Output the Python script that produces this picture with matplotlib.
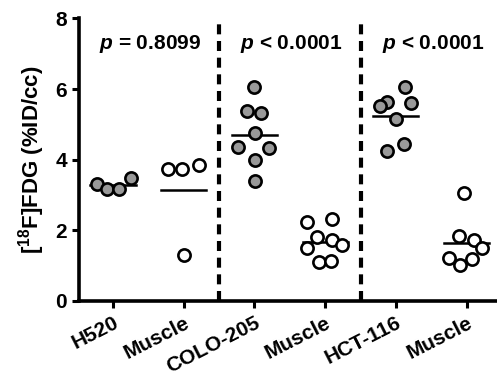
import numpy as np
import matplotlib
matplotlib.use('Agg')
import matplotlib.pyplot as plt

plt.rcParams['font.family'] = ['Liberation Sans', 'DejaVu Sans']
plt.rcParams['font.weight'] = 'bold'
plt.rcParams['mathtext.fontset'] = 'custom'
plt.rcParams['mathtext.rm'] = 'Liberation Sans:bold'
plt.rcParams['mathtext.it'] = 'Liberation Sans:italic:bold'
plt.rcParams['mathtext.bf'] = 'Liberation Sans:bold'

# groups on the x axis
labels = ['H520', 'Muscle', 'COLO-205', 'Muscle', 'HCT-116', 'Muscle']
filled = [True, False, True, False, True, False]

# [18F]FDG uptake (%ID/cc) per animal
h520 = [3.31, 3.16, 3.16, 3.49]
h520_muscle = [3.73, 3.73, 3.85, 1.30]
colo = [6.07, 5.39, 5.33, 4.76, 4.37, 4.34, 3.99, 3.40]
colo_muscle = [2.24, 2.32, 1.82, 1.73, 1.51, 1.59, 1.11, 1.14]
hct = [6.05, 5.64, 5.52, 5.60, 5.14, 4.44, 4.25]
hct_muscle = [3.05, 1.84, 1.73, 1.49, 1.23, 1.02, 1.18]

# horizontal scatter of the dots around each group
h520_dx = [-0.23, -0.08, 0.085, 0.255]
h520_muscle_dx = [-0.22, -0.02, 0.21, 0.01]
colo_dx = [0.0, -0.10, 0.10, 0.01, -0.23, 0.21, 0.01, 0.01]
colo_muscle_dx = [-0.25, 0.10, -0.11, 0.10, -0.26, 0.24, -0.08, 0.08]
hct_dx = [0.13, -0.12, -0.22, 0.21, 0.0, 0.12, -0.12]
hct_muscle_dx = [-0.03, -0.11, 0.11, 0.22, -0.25, -0.10, 0.07]

p_values = ['$p$ = 0.8099', '$p$ < 0.0001', '$p$ < 0.0001']

groups = [h520, h520_muscle, colo, colo_muscle, hct, hct_muscle]
offsets = [h520_dx, h520_muscle_dx, colo_dx, colo_muscle_dx, hct_dx, hct_muscle_dx]

fig = plt.figure(figsize=(4.97, 3.76), dpi=100)
ax = fig.add_axes([0.159, 0.1995, 0.841, 0.7515])

for i, (vals, dx) in enumerate(zip(groups, offsets)):
    x = i + np.array(dx)
    ax.plot([i - 0.32, i + 0.32], [np.mean(vals)] * 2, color='black', lw=1.8, zorder=2)
    ax.plot(x, vals, 'o', ms=8.8, mew=1.9, mec='black',
            mfc='#999999' if filled[i] else 'white', zorder=3, clip_on=False)

for xd in [1.5, 3.5]:
    ax.plot([xd, xd], [0, 8], color='black', lw=3, ls=(0, (2.4, 1.6)), zorder=1)

for j, txt in enumerate(p_values):
    ax.text([0.52, 2.52, 4.53][j], 7.29, txt, ha='center', va='center',
            fontsize=15, fontweight='bold')

ax.set_xlim(-0.48, 5.43)
ax.set_ylim(0, 8)
ax.set_yticks([0, 2, 4, 6, 8])
ax.set_xticks(range(len(labels)))
ax.set_xticklabels(labels, rotation=27, ha='right', rotation_mode='anchor',
                   fontsize=15, fontweight='bold')
ax.set_ylabel('[$^{18}$F]FDG (%ID/cc)', fontsize=16, fontweight='bold', labelpad=6)

for s in ['top', 'right']:
    ax.spines[s].set_visible(False)
for s in ['left', 'bottom']:
    ax.spines[s].set_linewidth(2.6)
ax.tick_params(width=2.2, length=5)
ax.tick_params(axis='x', pad=4)
ax.tick_params(axis='y', labelsize=15)
for t in ax.get_yticklabels():
    t.set_fontweight('bold')

fig.savefig('out.png', dpi=100)
